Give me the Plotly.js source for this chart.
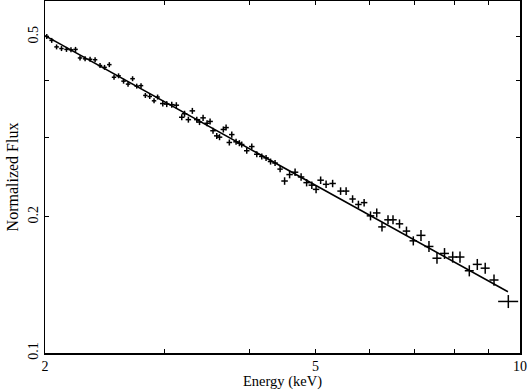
<!DOCTYPE html>
<html>
<head>
<meta charset="utf-8">
<script src="https://cdn.plot.ly/plotly-3.0.1.min.js"></script>
<style>html,body{margin:0;padding:0;background:#fff;}#chart{width:528px;height:390px;}</style>
</head>
<body>
<div id="chart"></div>
<script>
// Energy bins (keV) and normalized flux
const energy = [2.012,2.046,2.080,2.115,2.151,2.184,2.218,2.252,2.291,2.330,2.370,2.410,2.447,2.487,2.527,2.566,2.610,2.650,2.691,2.729,2.769,2.810,2.852,2.894,2.929,
  2.981,3.021,3.073,3.121,3.179,3.209,3.251,3.295,3.345,3.376,3.417,3.463,3.499,3.534,3.579,3.613,3.660,3.694,3.735,3.766,3.821,3.864,3.895,3.962,
  4.030,4.099,4.169,4.230,4.295,4.361,4.436,4.504,4.581,4.667,4.763,4.853,4.939,5.011,5.089,5.184,5.300,5.445,5.548,5.671,5.784,5.897,
  6.026,6.154,6.265,6.394,6.503,6.648,6.807,6.966,7.150,7.346,7.548,7.743,7.961,8.160,8.422,8.653,8.888,9.157,9.612];
const flux = [0.501,0.491,0.475,0.471,0.469,0.468,0.469,0.449,0.447,0.446,0.445,0.432,0.428,0.434,0.407,0.410,0.399,0.393,0.404,0.389,0.390,0.371,0.369,0.361,0.368,
  0.356,0.355,0.354,0.353,0.332,0.338,0.328,0.343,0.328,0.324,0.331,0.322,0.325,0.310,0.302,0.300,0.312,0.315,0.292,0.304,0.293,0.291,0.289,0.280,
  0.286,0.275,0.272,0.270,0.265,0.263,0.255,0.240,0.248,0.251,0.245,0.238,0.235,0.230,0.241,0.236,0.237,0.228,0.228,0.219,0.213,0.215,
  0.201,0.204,0.190,0.197,0.197,0.193,0.186,0.177,0.182,0.172,0.162,0.166,0.163,0.163,0.152,0.157,0.154,0.145,0.130];
// half bin widths (keV)
const energyErr = [0.015,0.016,0.016,0.016,0.016,0.017,0.017,0.017,0.017,0.018,0.018,0.018,0.019,0.019,0.019,0.020,0.020,0.020,0.021,0.021,0.021,0.021,0.022,0.022,0.022,
  0.028,0.028,0.029,0.029,0.030,0.030,0.030,0.031,0.031,0.031,0.032,0.032,0.033,0.033,0.033,0.034,0.034,0.034,0.035,0.035,0.036,0.036,0.036,0.037,
  0.038,0.038,0.039,0.039,0.040,0.041,0.041,0.050,0.050,0.051,0.052,0.053,0.054,0.055,0.056,0.057,0.058,0.060,0.061,0.062,0.064,0.065,
  0.077,0.078,0.080,0.081,0.083,0.084,0.086,0.088,0.109,0.112,0.115,0.118,0.121,0.124,0.128,0.132,0.136,0.140,0.326];
// flux errors
const fluxErr = [0.0064,0.0062,0.0060,0.0060,0.0060,0.0059,0.0060,0.0057,0.0057,0.0057,0.0057,0.0055,0.0054,0.0055,0.0052,0.0052,0.0051,0.0050,0.0051,0.0049,0.0050,0.0047,0.0047,0.0046,0.0047,
  0.0054,0.0054,0.0054,0.0054,0.0051,0.0052,0.0050,0.0052,0.0050,0.0050,0.0051,0.0049,0.0050,0.0047,0.0046,0.0046,0.0048,0.0048,0.0045,0.0047,0.0045,0.0045,0.0044,0.0043,
  0.0044,0.0042,0.0042,0.0041,0.0041,0.0040,0.0039,0.0046,0.0047,0.0048,0.0047,0.0045,0.0045,0.0044,0.0046,0.0045,0.0045,0.0044,0.0044,0.0042,0.0041,0.0041,
  0.0046,0.0047,0.0044,0.0045,0.0045,0.0044,0.0043,0.0041,0.0051,0.0048,0.0045,0.0046,0.0046,0.0046,0.0043,0.0044,0.0043,0.0041,0.0043];
// power-law model line
const modelEnergy = [2.0, 9.6];
const modelFlux = [0.503, 0.1366];

const xTickVals = [2,3,4,5,6,7,8,9,10];
const xTickText = ['2','','','5','','','','','10'];
const yTickVals = [0.1,0.2,0.3,0.4,0.5];
const yTickText = ['0.1','0.2','','','0.5'];

const fam = 'Liberation Serif, Times New Roman, serif';
const font = {family: fam, size: 14, color: '#000'};

const traces = [
  {
    x: energy, y: flux, type: 'scatter', mode: 'markers',
    marker: {size: 1, color: 'rgba(0,0,0,0)'},
    error_x: {type: 'data', array: energyErr, visible: true, color: '#000', thickness: 1.5, width: 0},
    error_y: {type: 'data', array: fluxErr, visible: true, color: '#000', thickness: 1.5, width: 0},
    showlegend: false, hoverinfo: 'skip'
  },
  {
    x: modelEnergy, y: modelFlux, type: 'scatter', mode: 'lines',
    line: {color: '#000', width: 1.6}, showlegend: false, hoverinfo: 'skip'
  }
];

const axisCommon = {
  type: 'log', showgrid: false, zeroline: false, showline: true, linecolor: '#000', linewidth: 1.5,
  mirror: 'ticks', ticks: 'inside', ticklen: 4, tickwidth: 1, tickcolor: '#000',
  tickfont: font
};

const layout = {
  width: 528, height: 390,
  margin: {l: 45, r: 8, t: 1, b: 37, pad: 0},
  paper_bgcolor: '#fff', plot_bgcolor: '#fff',
  font: font,
  xaxis: Object.assign({}, axisCommon, {
    range: [Math.log10(2), 1],
    tickmode: 'array', tickvals: xTickVals, ticktext: xTickText,
    title: {text: 'Energy (keV)', font: {family: fam, size: 14.5, color: '#000'}, standoff: 4}
  }),
  yaxis: Object.assign({}, axisCommon, {
    range: [-1, Math.log10(0.6)],
    tickmode: 'array', tickvals: yTickVals, ticktext: yTickText, tickangle: -90,
    title: {text: 'Normalized Flux', font: {family: fam, size: 16, color: '#000'}, standoff: 3}
  })
};

Plotly.newPlot('chart', traces, layout, {staticPlot: true, displayModeBar: false});
</script>
</body>
</html>
